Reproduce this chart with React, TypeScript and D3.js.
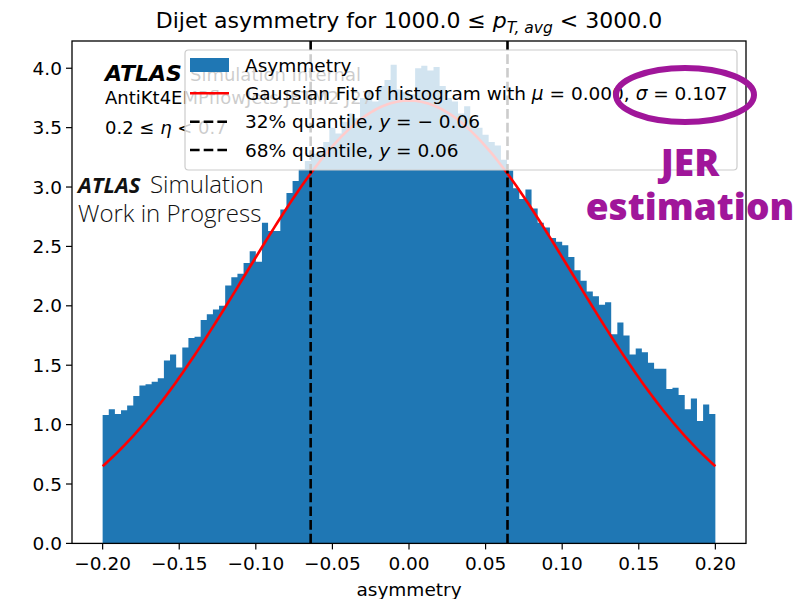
import React from "react";
import * as d3 from "d3";

// Normalised asymmetry histogram: 100 bins of width 0.004 between -0.2 and 0.2
const binEdgesLow = -0.2;
const binWidth = 0.004;
const density = [
  1.08, 1.13, 1.09, 1.12, 1.16, 1.24, 1.33, 1.34, 1.36, 1.39,
  1.54, 1.59, 1.48, 1.65, 1.73, 1.74, 1.88, 1.93, 1.97, 2.0,
  2.17, 2.24, 2.27, 2.36, 2.46, 2.37, 2.7, 2.63, 2.63, 2.81,
  2.95, 3.05, 3.15, 3.22, 3.28, 3.3, 3.38, 3.5, 3.45, 3.55,
  3.62, 3.58, 3.75, 3.8, 3.72, 3.85, 3.9, 4.03, 3.82, 3.8,
  3.78, 4.0, 4.02, 3.98, 4.01, 3.85, 3.75, 3.72, 3.62, 3.68,
  3.55, 3.5, 3.44, 3.38, 3.35, 3.23, 3.14, 2.99, 2.9, 2.98,
  2.82, 2.7, 2.66, 2.57, 2.54, 2.51, 2.41, 2.3, 2.21, 2.12,
  2.08, 2.01, 2.03, 1.76, 1.86, 1.75, 1.59, 1.64, 1.61, 1.52,
  1.47, 1.47, 1.3, 1.31, 1.25, 1.13, 1.22, 1.03, 1.17, 1.09,
];

// Gaussian fit parameters
const fitMu = 0.0;
const fitSigma = 0.107;

// Quantile positions (32% and 68%)
const quantiles = [-0.0642, 0.0643];

const xTicks = [-0.2, -0.15, -0.1, -0.05, 0.0, 0.05, 0.1, 0.15, 0.2];
const yTicks = [0, 0.5, 1, 1.5, 2, 2.5, 3, 3.5, 4];

const W = 794;
const H = 599;
const left = 72;
const right = 746;
const top = 41;
const bottom = 543.4;

const BLUE = "#1f77b4";
const PURPLE = "#a0169a";
const MPL = "DejaVu Sans, sans-serif";
const OPEN = "'Open Sans', sans-serif";

export default function App() {
  const x = d3.scaleLinear().domain([-0.22, 0.22]).range([left, right]);
  const y = d3.scaleLinear().domain([0, 4.2293]).range([bottom, top]);

  // Step outline of the histogram
  const pts: [number, number][] = [];
  pts.push([x(binEdgesLow), y(0)]);
  density.forEach((v, i) => {
    const x0 = binEdgesLow + i * binWidth;
    pts.push([x(x0), y(v)]);
    pts.push([x(x0 + binWidth), y(v)]);
  });
  pts.push([x(binEdgesLow + density.length * binWidth), y(0)]);
  const histPath = "M" + pts.map((p) => p.join(",")).join("L") + "Z";

  const gauss = (t: number) =>
    Math.exp(-((t - fitMu) ** 2) / (2 * fitSigma * fitSigma)) /
    (fitSigma * Math.sqrt(2 * Math.PI));
  const curveXs = d3.range(0, 201).map((i) => -0.2 + (0.4 * i) / 200);
  const line = d3
    .line<number>()
    .x((t) => x(t))
    .y((t) => y(gauss(t)));
  const fitPath = line(curveXs) || "";

  const fmtX = (v: number) => (v < 0 ? "\u2212" : "") + Math.abs(v).toFixed(2);
  const fmtY = (v: number) => v.toFixed(1);

  const legX = 185;
  const legY = 50;
  const legW = 552;
  const legH = 120;
  const rowY = [65, 93.3, 121.7, 150];
  const hx0 = 190;
  const hx1 = 229;
  const tx = 245;
  const fs = 18.5;

  return (
    <div style={{ position: "fixed", left: 0, top: 0 }}>
      <svg width={W} height={H} viewBox={`0 0 ${W} ${H}`} style={{ display: "block", background: "#fff" }}>
        {/* title */}
        <text x={409} y={28} textAnchor="middle" fontFamily={MPL} fontSize={22} fill="#000">
          Dijet asymmetry for 1000.0 ≤ <tspan fontStyle="italic">p</tspan>
          <tspan fontStyle="italic" fontSize={15.5} dy={4.5}>T, avg</tspan>
          <tspan dy={-4.5}> &lt; 3000.0</tspan>
        </text>

        {/* histogram */}
        <path d={histPath} fill={BLUE} />

        {/* gaussian fit */}
        <path d={fitPath} fill="none" stroke="#ff0000" strokeWidth={2.6} />

        {/* quantile lines */}
        {quantiles.map((q, i) => (
          <line key={i} x1={x(q)} x2={x(q)} y1={bottom} y2={top} stroke="#000" strokeWidth={2.6} strokeDasharray="9.6,4.1" />
        ))}

        {/* internal label, partly under the legend */}
        <g fontFamily={MPL} fill="#000">
          <text x={105} y={81} fontSize={22} fontWeight="bold" fontStyle="italic">ATLAS</text>
          <text x={190} y={81} fontSize={18}>Simulation Internal</text>
          <text x={105} y={104} fontSize={18}>AntiKt4EMPflowJets JETM2 J27</text>
          <text x={105} y={134} fontSize={18}>
            0.2 ≤ <tspan fontStyle="italic">η</tspan> &lt; 0.7
          </text>
        </g>

        {/* legend */}
        <rect x={legX} y={legY} width={legW} height={legH} rx={3.5} fill="#fff" fillOpacity={0.8} stroke="#cccccc" strokeWidth={1.2} />
        <rect x={hx0} y={rowY[0] - 7} width={hx1 - hx0} height={14} fill={BLUE} />
        <line x1={hx0} x2={hx1} y1={rowY[1]} y2={rowY[1]} stroke="#ff0000" strokeWidth={2.6} />
        <line x1={hx0} x2={hx1} y1={rowY[2]} y2={rowY[2]} stroke="#000" strokeWidth={2.6} strokeDasharray="9.6,4.1" />
        <line x1={hx0} x2={hx1} y1={rowY[3]} y2={rowY[3]} stroke="#000" strokeWidth={2.6} strokeDasharray="9.6,4.1" />
        <g fontFamily={MPL} fontSize={fs} fill="#000">
          <text x={tx} y={rowY[0] + 6.5}>Asymmetry</text>
          <text x={tx} y={rowY[1] + 6.5}>
            Gaussian Fit of histogram with <tspan fontStyle="italic">μ</tspan> = 0.000, <tspan fontStyle="italic">σ</tspan> = 0.107
          </text>
          <text x={tx} y={rowY[2] + 6.5}>
            32% quantile, <tspan fontStyle="italic">y</tspan> = − 0.06
          </text>
          <text x={tx} y={rowY[3] + 6.5}>
            68% quantile, <tspan fontStyle="italic">y</tspan> = 0.06
          </text>
        </g>

        {/* axes frame */}
        <rect x={left} y={top} width={right - left} height={bottom - top} fill="none" stroke="#000" strokeWidth={1.3} />

        {/* x ticks */}
        {xTicks.map((t) => (
          <g key={"x" + t}>
            <line x1={x(t)} x2={x(t)} y1={bottom} y2={bottom + 6} stroke="#000" strokeWidth={1.2} />
            <text x={x(t)} y={570} textAnchor="middle" fontFamily={MPL} fontSize={fs} fill="#000">
              {fmtX(t)}
            </text>
          </g>
        ))}
        {/* y ticks */}
        {yTicks.map((t) => (
          <g key={"y" + t}>
            <line x1={left - 6} x2={left} y1={y(t)} y2={y(t)} stroke="#000" strokeWidth={1.2} />
            <text x={62} y={y(t) + 6.5} textAnchor="end" fontFamily={MPL} fontSize={fs} fill="#000">
              {fmtY(t)}
            </text>
          </g>
        ))}
        <text x={409} y={596} textAnchor="middle" fontFamily={MPL} fontSize={fs} fill="#000">asymmetry</text>

        {/* simulation label */}
        <g fontFamily={OPEN} fill="#111">
          <text x={78} y={193} fontSize={22} fontWeight={700} fontStyle="italic">ATLAS</text>
          <text x={150} y={193} fontSize={24} fontWeight={300}>Simulation</text>
          <text x={78} y={222} fontSize={24} fontWeight={300}>Work in Progress</text>
        </g>

        {/* JER annotation */}
        <ellipse cx={685} cy={95} rx={69} ry={27} fill="none" stroke={PURPLE} strokeWidth={6} />
        <g fontFamily={OPEN} fontWeight={800} fill={PURPLE} textAnchor="middle">
          <text x={690} y={176} fontSize={37}>JER</text>
          <text x={690} y={220} fontSize={37}>estimation</text>
        </g>
      </svg>
    </div>
  );
}
